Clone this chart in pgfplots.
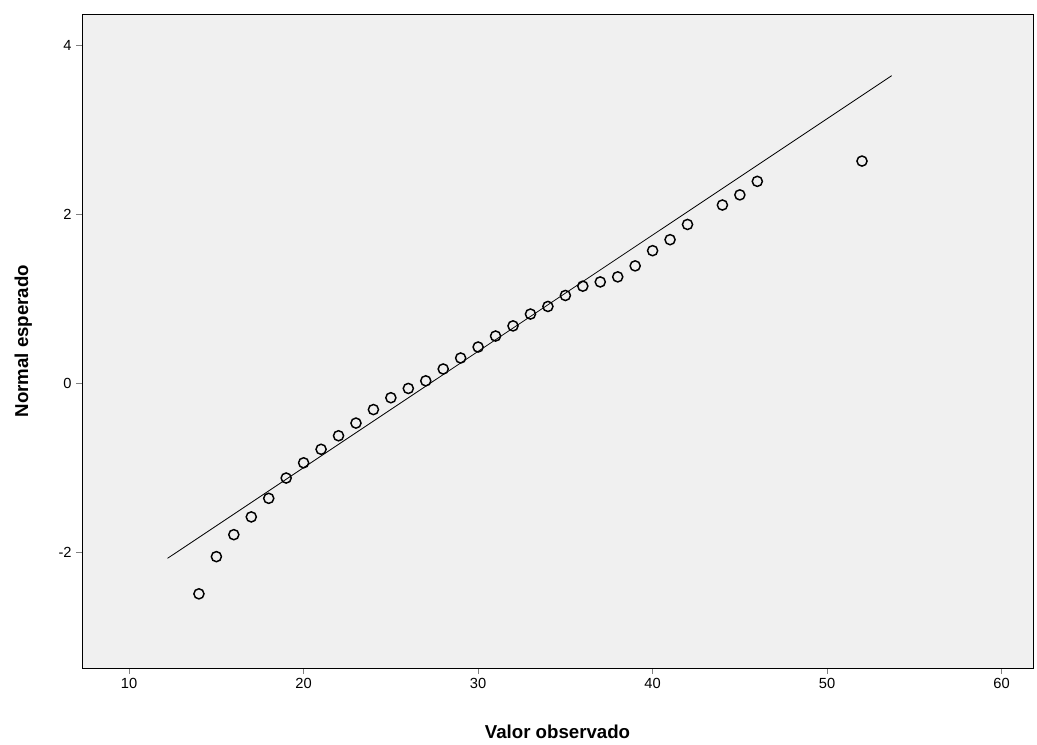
\documentclass[border=0pt]{standalone}
\usepackage{fontspec}
\setmainfont{Liberation Sans}
\usepackage{pgfplots}
\pgfplotsset{compat=1.18}
\begin{document}
\begin{tikzpicture}
\begin{axis}[
  scale only axis, width=713pt, height=490.5pt,
  axis background/.style={fill=black!6},
  xmin=7.3, xmax=61.8, ymin=-3.37, ymax=4.37,
  xtick={10,20,30,40,50,60}, ytick={-2,0,2,4},
  tick align=outside, xtick pos=bottom, ytick pos=left,
  /pgf/number format/assume math mode=true,
  ticklabel style={font=\fontsize{11}{13}\selectfont},
  xlabel={\textbf{Valor observado}}, ylabel={\textbf{Normal esperado}},
  label style={font=\fontsize{14}{16}\selectfont},
  xlabel style={yshift=-20pt},
  ylabel style={yshift=13pt},
]
\addplot[black, semithick] coordinates {(12.2,-2.07) (53.7,3.64)};
\addplot[only marks, mark=o, mark size=3.8pt, line width=1.1pt, black] coordinates {
(14,-2.49)(15,-2.05)(16,-1.79)(17,-1.58)(18,-1.36)(19,-1.12)(20,-0.94)(21,-0.78)
(22,-0.62)(23,-0.47)(24,-0.31)(25,-0.17)(26,-0.06)(27,0.03)(28,0.17)(29,0.30)
(30,0.43)(31,0.56)(32,0.68)(33,0.82)(34,0.91)(35,1.04)(36,1.15)(37,1.20)
(38,1.26)(39,1.39)(40,1.57)(41,1.70)(42,1.88)(44,2.11)(45,2.23)(46,2.39)(52,2.63)};
\end{axis}
\pgfresetboundingbox
\path ([xshift=-61.5pt,yshift=-57pt]current axis.south west) rectangle ([xshift=3pt,yshift=10.5pt]current axis.north east);
\end{tikzpicture}
\end{document}
